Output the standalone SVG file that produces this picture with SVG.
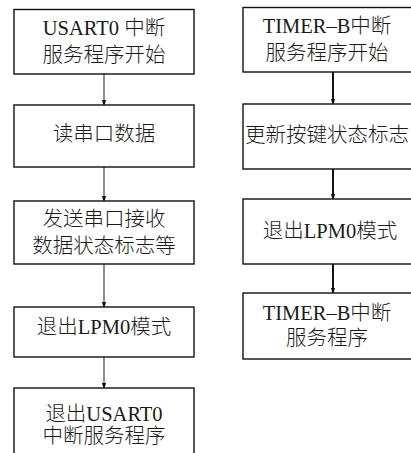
<svg xmlns="http://www.w3.org/2000/svg" width="411" height="453" viewBox="0 0 411 453">
<defs>
<marker id="ah" markerWidth="7" markerHeight="12" refX="7" refY="3.5" orient="auto" markerUnits="userSpaceOnUse" viewBox="0 0 12 7">
<path d="M0,0 L12,3.5 L0,7 Z" fill="#111"/>
</marker>
<style>
.box{fill:#fff;stroke:#111;stroke-width:1.4}
.t{font-family:"Liberation Serif","Noto Sans CJK SC",serif;font-size:20.5px;font-weight:300;fill:#1a1a1a;text-anchor:middle}
.c1{stroke:#444;stroke-width:1.2;fill:none}
.c2{stroke:#111;stroke-width:2;fill:none}
</style>
</defs>
<rect width="411" height="453" fill="#fff"/>
<g id="connectors">
<line class="c1" x1="104" y1="74" x2="104" y2="104" marker-end="url(#ah)"/>
<line class="c1" x1="104" y1="167" x2="104" y2="200" marker-end="url(#ah)"/>
<line class="c1" x1="104" y1="264" x2="104" y2="306" marker-end="url(#ah)"/>
<line class="c1" x1="104" y1="357" x2="104" y2="387" marker-end="url(#ah)"/>
<line class="c2" x1="333" y1="72" x2="333" y2="103" marker-end="url(#ah)"/>
<line class="c2" x1="333" y1="169" x2="333" y2="198" marker-end="url(#ah)"/>
<line class="c2" x1="333" y1="264" x2="333" y2="292" marker-end="url(#ah)"/>
</g>
<g id="usart-start">
<rect class="box" x="14" y="9.5" width="180" height="64.5"/>
<text class="t" x="104" y="35">USART0 中断</text>
<text class="t" x="104" y="62">服务程序开始</text>
</g>
<g id="read-data">
<rect class="box" x="14" y="105" width="180" height="62"/>
<text class="t" x="104" y="141">读串口数据</text>
</g>
<g id="send-flags">
<rect class="box" x="14" y="201" width="180" height="63"/>
<text class="t" x="104" y="226">发送串口接收</text>
<text class="t" x="104" y="253">数据状态标志等</text>
</g>
<g id="exit-lpm0-left">
<rect class="box" x="14" y="307" width="180" height="50"/>
<text class="t" x="104" y="334">退出LPM0模式</text>
</g>
<g id="usart-exit">
<rect class="box" x="14" y="388" width="180" height="80"/>
<text class="t" x="104" y="421">退出USART0</text>
<text class="t" x="104" y="443">中断服务程序</text>
</g>
<g id="timerb-start">
<rect class="box" x="243" y="7.5" width="180" height="64.5"/>
<text class="t" x="327" y="33">TIMER–B中断</text>
<text class="t" x="327" y="60">服务程序开始</text>
</g>
<g id="update-keys">
<rect class="box" x="243" y="104" width="180" height="65"/>
<text class="t" x="245" y="142" style="text-anchor:start">更新按键状态标志</text>
</g>
<g id="exit-lpm0-right">
<rect class="box" x="243" y="199" width="180" height="65"/>
<text class="t" x="330" y="238">退出LPM0模式</text>
</g>
<g id="timerb-exit">
<rect class="box" x="243" y="293" width="180" height="66"/>
<text class="t" x="327" y="320">TIMER–B中断</text>
<text class="t" x="327" y="345">服务程序</text>
</g>
</svg>
